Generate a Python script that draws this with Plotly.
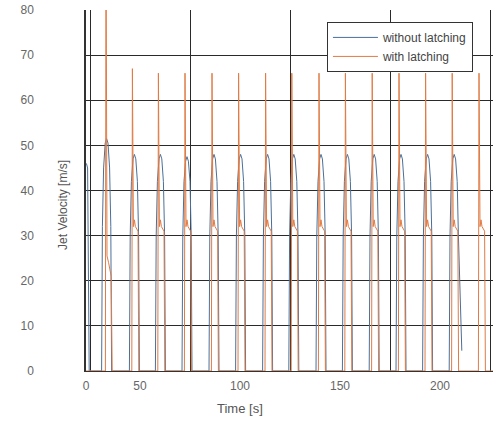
import plotly.graph_objects as go

# ---- data ----
blue_t = [23.2, 23.8, 24.6,
          30.8, 31.2, 31.8, 32.6, 33.3, 34.0, 34.8, 35.4, 35.8,
          44.7, 45.1, 45.7, 46.5, 47.2, 47.9, 48.7, 49.3, 49.7,
          57.7, 58.1, 58.7, 59.5, 60.2, 60.9, 61.7, 62.3, 62.7,
          71.0, 71.4, 72.0, 72.8, 73.5, 74.2, 75.0, 75.6, 76.0,
          84.5, 84.9, 85.5, 86.3, 87.0, 87.7, 88.5, 89.1, 89.5,
          97.8, 98.2, 98.8, 99.6, 100.3, 101.0, 101.8, 102.4, 102.8,
          111.3, 111.7, 112.3, 113.1, 113.8, 114.5, 115.3, 115.9, 116.3,
          124.4, 124.8, 125.4, 126.2, 126.9, 127.6, 128.4, 129.0, 129.4,
          138.0, 138.4, 139.0, 139.8, 140.5, 141.2, 142.0, 142.6, 143.0,
          151.2, 151.6, 152.2, 153.0, 153.7, 154.4, 155.2, 155.8, 156.2,
          164.6, 165.0, 165.6, 166.4, 167.1, 167.8, 168.6, 169.2, 169.6,
          178.0, 178.4, 179.0, 179.8, 180.5, 181.2, 182.0, 182.6, 183.0,
          191.3, 191.7, 192.3, 193.1, 193.8, 194.5, 195.3, 195.9, 196.3,
          204.6, 205.0, 205.6, 206.4, 207.1, 207.8, 208.6, 209.2, 210.9]
blue_v = [46, 45, 0,
          0, 32, 45, 50.5, 51.5, 50.5, 45, 32, 0,
          0, 30, 42, 47, 48, 47, 42, 30, 0,
          0, 30, 42, 47, 48, 47, 42, 30, 0,
          0, 30, 42, 46.5, 47.5, 46.5, 42, 30, 0,
          0, 30, 42, 47, 48, 47, 42, 30, 0,
          0, 30, 42, 47, 48, 47, 42, 30, 0,
          0, 30, 42, 47, 48, 47, 42, 30, 0,
          0, 30, 42, 47, 48, 47, 42, 30, 0,
          0, 30, 42, 47, 48, 47, 42, 30, 0,
          0, 30, 42, 47, 48, 47, 42, 30, 0,
          0, 30, 42, 47, 48, 47, 42, 30, 0,
          0, 30, 42, 47, 48, 47, 42, 30, 0,
          0, 30, 42, 47, 48, 47, 42, 30, 0,
          0, 30, 42, 47, 48, 47, 42, 30, 4.5]

orange_t = [23.0, 32.7, 33.0, 33.5, 34.3, 35.6, 36.1,
            45.9, 46.2, 46.7, 47.2, 47.7, 49.0, 49.4,
            58.9, 59.2, 59.7, 60.2, 60.7, 62.0, 62.4,
            72.2, 72.5, 73.0, 73.5, 74.0, 75.3, 75.7,
            85.7, 86.0, 86.5, 87.0, 87.5, 88.8, 89.2,
            99.0, 99.3, 99.8, 100.3, 100.8, 102.1, 102.5,
            112.5, 112.8, 113.3, 113.8, 114.3, 115.6, 116.0,
            125.6, 125.9, 126.4, 126.9, 127.4, 128.7, 129.1,
            139.2, 139.5, 140.0, 140.5, 141.0, 142.3, 142.7,
            152.4, 152.7, 153.2, 153.7, 154.2, 155.5, 155.9,
            165.8, 166.1, 166.6, 167.1, 167.6, 168.9, 169.3,
            179.2, 179.5, 180.0, 180.5, 181.0, 182.3, 182.7,
            192.5, 192.8, 193.3, 193.8, 194.3, 195.6, 196.0,
            205.8, 206.1, 206.6, 207.1, 207.6, 208.9, 209.3,
            219.2, 219.5, 220.0, 220.5, 221.0, 222.3, 222.7,
            226.5]
orange_v = [0, 0, 100, 25.5, 24, 21, 0,
            0, 67, 32, 33.5, 32, 31, 0,
            0, 66, 32, 33.5, 32, 31, 0,
            0, 66, 32, 33.5, 32, 31, 0,
            0, 66, 32, 33.5, 32, 31, 0,
            0, 66, 32, 33.5, 32, 31, 0,
            0, 66, 32, 33.5, 32, 31, 0,
            0, 66, 32, 33.5, 32, 31, 0,
            0, 66, 32, 33.5, 32, 31, 0,
            0, 66, 32, 33.5, 32, 31, 0,
            0, 66, 32, 33.5, 32, 31, 0,
            0, 66, 32, 33.5, 32, 31, 0,
            0, 66, 32, 33.5, 32, 31, 0,
            0, 66, 32, 33.5, 32, 31, 0,
            0, 66, 32, 33.5, 32, 31, 0,
            0]

x_tick_vals = [23.0, 50, 100, 150, 200]
x_tick_text = ["0", "50", "100", "150", "200"]
y_tick_vals = [0, 10, 20, 30, 40, 50, 60, 70, 80]

series_names = ["without latching", "with latching"]

# ---- figure ----
FONT = "Liberation Sans, Arial, sans-serif"
fig = go.Figure()
fig.add_trace(go.Scatter(x=blue_t, y=blue_v, mode="lines", name=series_names[0],
                         line=dict(color="#4a7099", width=1)))
fig.add_trace(go.Scatter(x=orange_t, y=orange_v, mode="lines", name=series_names[1],
                         line=dict(color="#e07b45", width=1)))
# invisible helper trace to carry the vertical grid axis
fig.add_trace(go.Scatter(x=[23.0, 226.5], y=[0, 0], mode="lines", xaxis="x2",
                         line=dict(width=0), showlegend=False, hoverinfo="skip"))

fig.update_layout(
    width=493, height=421,
    margin=dict(l=86, r=0, t=10, b=50, autoexpand=False),
    paper_bgcolor="white", plot_bgcolor="white",
    font=dict(family=FONT, size=12, color="#555"),
    xaxis=dict(range=[23.0, 226.5], tickvals=x_tick_vals, ticktext=x_tick_text,
               showgrid=False, zeroline=False, showline=True, linecolor="#333",
               linewidth=1, ticks="", ticklabelstandoff=4, automargin=False,
               ticklabeloverflow="allow", tickfont=dict(size=12, color="#666")),
    xaxis2=dict(range=[23.0, 226.5], overlaying="x", anchor="y", side="bottom",
                tick0=25, dtick=50, showgrid=True, gridcolor="#2a2a2a", gridwidth=1,
                showticklabels=False, zeroline=False, showline=False, ticks="",
                automargin=False),
    yaxis=dict(range=[0, 80], tickvals=y_tick_vals, showgrid=True,
               gridcolor="#2a2a2a", gridwidth=1, zeroline=False, showline=True,
               linecolor="#333", linewidth=1.5, ticks="", ticklabelstandoff=48,
               automargin=False, ticklabeloverflow="allow",
               tickfont=dict(size=12, color="#666")),
    legend=dict(x=0.592, y=0.967, xanchor="left", yanchor="top",
                bgcolor="white", bordercolor="#333", borderwidth=1,
                font=dict(size=12, color="#444"), tracegroupgap=0, itemwidth=45),
    showlegend=True,
    annotations=[
        dict(text="Jet Velocity [m/s]", xref="paper", yref="paper",
             x=-0.0565, y=0.46, textangle=-90, showarrow=False,
             font=dict(size=12, color="#555"), xanchor="center", yanchor="middle"),
        dict(text="Time [s]", xref="paper", yref="paper",
             x=0.378, y=-0.1025, showarrow=False,
             font=dict(size=13, color="#555"), xanchor="center", yanchor="middle"),
    ],
)

# remove the default page margin so the figure sits at the window's corner
fig.write_html("out.html", config={"displayModeBar": False},
               post_script="document.body.style.margin='0px';")
